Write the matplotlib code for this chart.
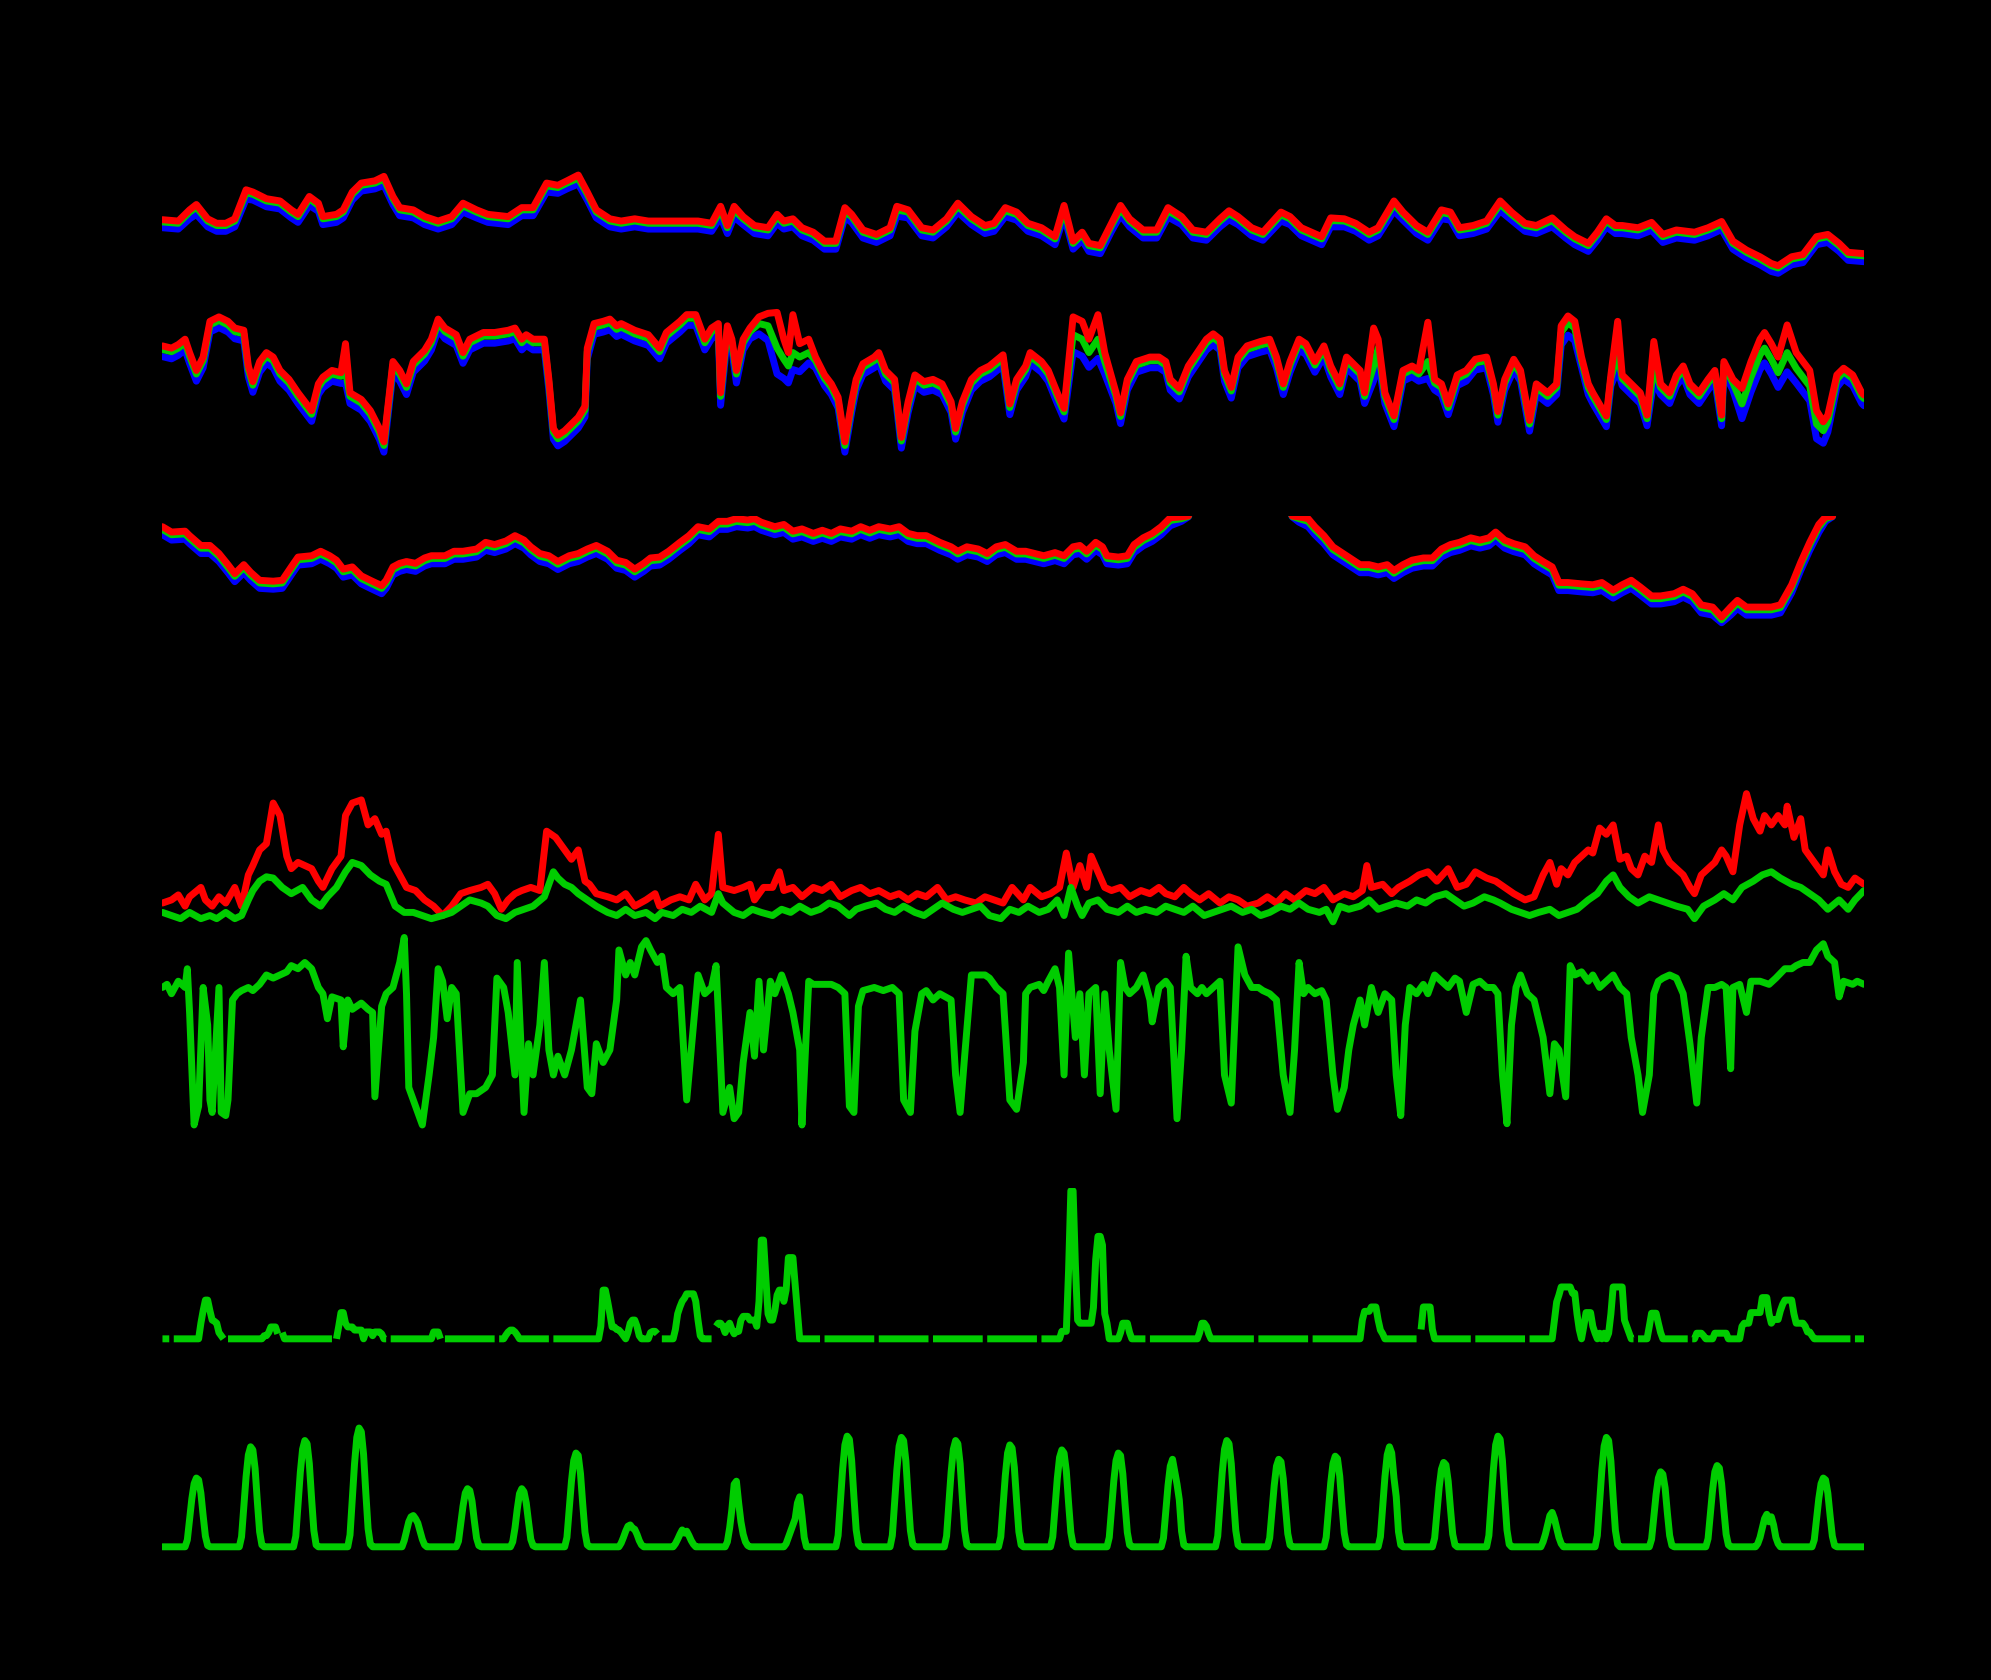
import numpy as np
import matplotlib
matplotlib.use("Agg")
import matplotlib.pyplot as plt

# hours since start of the month (31 days of hourly data, drawn on a black page)

# panel 1: three traces, red / green / blue
t1 = [0, 7, 12, 15, 20, 24, 28, 32, 37, 40,
      46, 52, 57, 60, 65, 69, 71, 77, 80, 84,
      88, 94, 98, 102, 105, 111, 116, 122, 128, 133,
      139, 144, 153, 159, 164, 170, 175, 179, 184, 188,
      192, 198, 203, 209, 215, 226, 237, 243, 247, 250,
      253, 257, 262, 268, 272, 275, 279, 283, 288, 293,
      298, 302, 305, 310, 316, 322, 325, 330, 336, 341,
      347, 352, 358, 364, 368, 373, 378, 383, 389, 395,
      399, 403, 407, 410, 415, 420, 424, 428, 434, 440,
      445, 451, 456, 462, 468, 472, 476, 482, 487, 495,
      499, 504, 513, 517, 523, 528, 534, 538, 545, 549,
      555, 560, 566, 570, 574, 580, 586, 592, 597, 603,
      608, 615, 621, 625, 631, 635, 639, 643, 646, 653,
      659, 664, 670, 678, 684, 690, 695, 701, 707, 712,
      715, 721, 726, 732, 737, 742, 746, 753]
red1 = [128, 125, 150, 162, 130, 120, 120, 130, 195, 190,
        175, 170, 150, 140, 180, 165, 135, 140, 150, 190,
        210, 215, 225, 180, 155, 150, 135, 125, 135, 165,
        150, 140, 135, 155, 155, 210, 205, 215, 228, 190,
        150, 130, 125, 130, 125, 125, 125, 120, 158, 115,
        158, 135, 115, 110, 140, 125, 130, 110, 100, 80,
        80, 155, 140, 105, 95, 110, 158, 150, 110, 105,
        130, 165, 135, 115, 120, 155, 145, 120, 110, 90,
        160, 80, 100, 75, 70, 120, 160, 130, 105, 105,
        155, 135, 105, 100, 130, 148, 135, 110, 100, 145,
        135, 110, 90, 132, 130, 120, 100, 110, 170, 145,
        115, 100, 150, 145, 110, 115, 125, 170, 145, 120,
        115, 132, 105, 90, 75, 100, 130, 115, 115, 110,
        122, 95, 105, 100, 110, 124, 80, 60, 45, 30,
        25, 45, 50, 90, 95, 75, 55, 52]
green1 = [123, 120, 145, 156, 125, 115, 115, 125, 188, 185,
          170, 165, 145, 135, 175, 160, 130, 135, 145, 185,
          205, 210, 219, 175, 150, 145, 130, 120, 130, 159,
          145, 135, 130, 150, 150, 204, 200, 210, 221, 185,
          145, 125, 120, 125, 120, 120, 120, 115, 150, 110,
          150, 130, 110, 105, 134, 120, 125, 105, 95, 75,
          75, 147, 135, 100, 90, 105, 150, 145, 105, 100,
          125, 158, 130, 110, 115, 148, 140, 115, 105, 85,
          150, 75, 95, 70, 65, 115, 152, 125, 100, 100,
          148, 130, 100, 95, 125, 142, 130, 105, 95, 139,
          130, 105, 85, 126, 125, 115, 95, 105, 163, 140,
          110, 95, 144, 140, 105, 110, 120, 163, 140, 115,
          110, 126, 100, 85, 70, 95, 125, 110, 110, 105,
          117, 90, 100, 95, 105, 118, 75, 55, 40, 25,
          20, 40, 45, 85, 90, 70, 50, 47]
blue1 = [110, 107, 130, 140, 112, 102, 102, 112, 174, 172,
         157, 152, 132, 122, 160, 147, 117, 122, 132, 172,
         192, 197, 205, 162, 137, 132, 117, 107, 117, 145,
         132, 122, 117, 137, 137, 190, 187, 197, 208, 172,
         132, 112, 107, 112, 107, 107, 107, 102, 134, 97,
         134, 117, 97, 92, 120, 107, 112, 92, 82, 62,
         62, 133, 122, 87, 77, 92, 136, 132, 92, 87,
         112, 145, 117, 97, 102, 135, 127, 102, 92, 72,
         136, 62, 82, 57, 52, 102, 138, 112, 87, 87,
         134, 117, 87, 82, 112, 128, 117, 92, 82, 125,
         117, 92, 72, 112, 112, 102, 82, 92, 148, 127,
         97, 82, 130, 127, 92, 97, 107, 148, 127, 102,
         97, 112, 87, 72, 57, 82, 112, 97, 97, 92,
         104, 77, 87, 82, 92, 106, 62, 42, 27, 12,
         8, 27, 32, 72, 77, 57, 37, 34]

# panel 2: three traces
t2 = [0, 4, 7, 10, 12, 15, 18, 21, 25, 29,
      32, 36, 38, 40, 43, 46, 49, 52, 56, 60,
      63, 66, 69, 71, 75, 79, 81, 83, 88, 92,
      96, 98, 100, 102, 105, 108, 111, 116, 119, 122,
      125, 130, 133, 136, 142, 147, 153, 156, 159, 161,
      164, 169, 171, 173, 175, 178, 181, 184, 187, 188,
      191, 195, 198, 201, 203, 209, 215, 220, 223, 229,
      232, 236, 240, 243, 246, 247, 250, 252, 254, 257,
      260, 264, 268, 272, 275, 277, 279, 282, 286, 289,
      293, 296, 299, 302, 305, 307, 310, 315, 317, 320,
      324, 327, 330, 333, 337, 341, 345, 349, 351, 354,
      358, 362, 366, 372, 375, 378, 382, 384, 389, 392,
      396, 399, 403, 407, 410, 414, 417, 422, 424, 427,
      431, 437, 441, 444, 446, 450, 454, 458, 462, 465,
      468, 470, 473, 476, 480, 486, 490, 493, 496, 499,
      503, 506, 510, 514, 517, 521, 524, 530, 532, 536,
      538, 541, 545, 549, 553, 556, 560, 563, 566, 569,
      573, 577, 581, 586, 589, 591, 594, 598, 601, 605,
      608, 613, 617, 619, 622, 625, 628, 631, 633, 639,
      641, 644, 646, 650, 654, 657, 660, 663, 667, 670,
      673, 676, 680, 684, 687, 690, 691, 695, 699, 703,
      707, 709, 712, 715, 719, 723, 726, 729, 732, 735,
      737, 741, 744, 748, 752, 753]
red2 = [245, 240, 248, 260, 230, 190, 220, 300, 310, 300,
        285, 280, 200, 165, 210, 230, 220, 190, 170, 140,
        120, 100, 160, 175, 190, 185, 250, 140, 125, 100,
        60, 30, 120, 210, 190, 160, 210, 235, 260, 305,
        285, 270, 230, 260, 275, 275, 280, 285, 260, 270,
        260, 260, 170, 60, 45, 55, 70, 85, 110, 240,
        295, 300, 305, 290, 295, 280, 270, 240, 275, 300,
        315, 315, 260, 285, 295, 140, 290, 260, 190, 260,
        285, 310, 318, 320, 260, 230, 315, 250, 260, 220,
        180, 160, 130, 30, 120, 170, 205, 220, 230, 190,
        170, 40, 120, 180, 165, 170, 160, 120, 60, 120,
        170, 190, 200, 225, 115, 170, 200, 230, 210, 190,
        140, 105, 310, 300, 260, 315, 230, 140, 95, 170,
        210, 220, 220, 210, 170, 150, 200, 230, 260, 272,
        260, 190, 152, 220, 245, 255, 260, 220, 160, 210,
        260, 250, 210, 245, 200, 160, 220, 190, 140, 285,
        260, 140, 88, 190, 200, 190, 298, 170, 160, 115,
        180, 190, 215, 220, 160, 98, 170, 215, 190, 78,
        160, 140, 160, 290, 312, 300, 220, 160, 140, 88,
        180, 300, 180, 160, 140, 90, 255, 160, 140, 180,
        200, 160, 140, 170, 190, 90, 210, 170, 150, 210,
        260, 275, 250, 220, 292, 230, 210, 190, 100, 75,
        90, 180, 195, 180, 140, 135]
green2 = [237, 232, 240, 252, 222, 182, 212, 292, 302, 292,
          277, 272, 192, 157, 202, 222, 212, 182, 162, 132,
          112, 92, 152, 167, 182, 177, 190, 132, 117, 92,
          52, 22, 112, 202, 182, 152, 202, 227, 252, 297,
          277, 262, 222, 252, 267, 267, 272, 277, 252, 262,
          252, 252, 162, 52, 37, 47, 62, 77, 102, 232,
          287, 292, 297, 282, 287, 272, 262, 232, 267, 292,
          307, 307, 252, 277, 287, 132, 282, 252, 182, 252,
          277, 295, 290, 240, 215, 200, 230, 220, 230, 212,
          172, 152, 122, 22, 112, 162, 197, 212, 222, 182,
          162, 32, 112, 172, 157, 162, 152, 112, 52, 112,
          162, 182, 192, 217, 107, 162, 192, 222, 202, 182,
          132, 97, 270, 260, 230, 260, 210, 132, 87, 162,
          202, 212, 212, 202, 162, 142, 192, 222, 252, 264,
          252, 182, 144, 212, 237, 247, 252, 212, 152, 202,
          252, 242, 202, 237, 192, 152, 212, 182, 132, 200,
          240, 132, 80, 182, 192, 182, 210, 162, 152, 107,
          172, 182, 207, 212, 152, 90, 162, 207, 182, 70,
          152, 132, 152, 275, 297, 285, 212, 152, 132, 80,
          172, 230, 172, 152, 132, 82, 200, 152, 132, 172,
          192, 152, 132, 162, 182, 82, 202, 162, 115, 175,
          225, 240, 215, 185, 230, 195, 175, 155, 70, 55,
          75, 170, 187, 172, 132, 127]
blue2 = [221, 216, 224, 236, 206, 166, 196, 276, 286, 276,
         261, 256, 176, 141, 186, 206, 196, 166, 146, 116,
         96, 76, 136, 151, 166, 161, 162, 116, 101, 76,
         36, 7, 96, 186, 166, 136, 186, 211, 236, 281,
         261, 246, 206, 236, 251, 251, 256, 261, 236, 246,
         236, 236, 146, 36, 21, 31, 46, 61, 86, 216,
         271, 276, 281, 266, 271, 256, 246, 216, 251, 276,
         291, 291, 236, 261, 271, 112, 266, 236, 162, 236,
         261, 272, 257, 182, 172, 162, 192, 187, 207, 196,
         156, 136, 106, 7, 96, 146, 181, 196, 206, 166,
         146, 16, 96, 156, 141, 146, 136, 96, 36, 96,
         146, 166, 176, 201, 91, 146, 176, 206, 186, 166,
         116, 81, 232, 222, 197, 217, 182, 116, 71, 146,
         186, 196, 196, 186, 146, 126, 176, 206, 236, 248,
         236, 166, 128, 196, 221, 231, 236, 196, 136, 186,
         236, 226, 186, 221, 176, 136, 196, 166, 116, 167,
         212, 116, 64, 166, 176, 166, 172, 146, 136, 91,
         156, 166, 191, 196, 136, 74, 146, 191, 166, 54,
         136, 116, 136, 247, 269, 257, 196, 136, 116, 64,
         156, 192, 156, 136, 116, 66, 167, 136, 116, 156,
         176, 136, 116, 146, 166, 66, 186, 146, 82, 142,
         192, 207, 182, 152, 187, 162, 142, 122, 37, 27,
         52, 152, 171, 156, 116, 111]

# panel 3: three traces, running off the top of the panel twice
t3 = [0, 4, 10, 12, 17, 21, 25, 29, 32, 36,
      39, 43, 49, 53, 57, 60, 66, 70, 74, 77,
      80, 84, 88, 92, 97, 99, 102, 105, 108, 112,
      116, 119, 125, 129, 133, 139, 143, 147, 152, 156,
      160, 163, 167, 171, 175, 180, 184, 188, 192, 197,
      201, 205, 209, 213, 216, 220, 224, 229, 233, 237,
      242, 246, 250, 254, 259, 262, 265, 271, 275, 279,
      283, 288, 292, 296, 300, 305, 309, 313, 317, 322,
      326, 330, 334, 338, 344, 349, 352, 356, 361, 365,
      369, 373, 378, 382, 386, 390, 395, 399, 403, 406,
      409, 413, 416, 418, 423, 427, 430, 434, 438, 442,
      446, 451, 454, 457, 496, 500, 503, 507, 510, 514,
      518, 524, 530, 534, 538, 542, 545, 549, 553, 558,
      562, 566, 570, 574, 579, 583, 587, 590, 594, 598,
      603, 607, 611, 615, 618, 622, 628, 633, 637, 642,
      646, 650, 654, 659, 663, 669, 673, 677, 681, 686,
      690, 694, 697, 701, 707, 712, 716, 721, 725, 729,
      733, 736, 739, 742, 753]
red3 = [220, 208, 210, 200, 178, 178, 160, 135, 115, 135,
        118, 100, 98, 100, 130, 152, 155, 165, 155, 145,
        125, 130, 110, 100, 88, 100, 130, 138, 142, 138,
        150, 155, 155, 165, 165, 170, 185, 180, 188, 200,
        190, 175, 160, 155, 142, 155, 160, 170, 178, 165,
        145, 140, 125, 138, 150, 152, 165, 185, 200, 220,
        215, 232, 232, 238, 235, 238, 230, 220, 225, 210,
        215, 205, 212, 205, 215, 210, 220, 212, 220, 215,
        220, 205, 200, 200, 185, 175, 165, 175, 170, 160,
        175, 180, 165, 165, 160, 155, 162, 155, 175, 178,
        165, 185, 175, 155, 152, 155, 180, 195, 205, 220,
        240, 242, 244, 290, 290, 244, 242, 238, 220, 200,
        175, 155, 135, 135, 130, 135, 122, 135, 145, 150,
        150, 170, 180, 185, 195, 190, 195, 208, 190, 182,
        175, 155, 142, 130, 95, 95, 92, 90, 95, 78,
        90, 100, 85, 65, 65, 70, 80, 70, 45, 40,
        18, 40, 55, 40, 40, 40, 45, 90, 140, 185,
        225, 242, 243, 300, 300]
green3 = [214, 202, 204, 194, 172, 172, 154, 129, 109, 129,
          112, 94, 92, 94, 124, 146, 149, 159, 149, 139,
          119, 124, 104, 94, 82, 94, 124, 132, 136, 132,
          144, 149, 149, 159, 159, 164, 179, 174, 182, 194,
          184, 169, 154, 149, 136, 149, 154, 164, 172, 159,
          139, 134, 119, 132, 144, 146, 159, 179, 194, 214,
          209, 226, 226, 232, 229, 232, 224, 214, 219, 204,
          209, 199, 206, 199, 209, 204, 214, 206, 214, 209,
          214, 199, 194, 194, 179, 169, 159, 169, 164, 154,
          169, 174, 159, 159, 154, 149, 156, 149, 169, 172,
          159, 179, 169, 149, 146, 149, 174, 189, 199, 214,
          234, 238, 243, 290, 290, 243, 238, 232, 214, 194,
          169, 149, 129, 129, 124, 129, 116, 129, 139, 144,
          144, 164, 174, 179, 189, 184, 189, 202, 184, 176,
          169, 149, 136, 124, 89, 89, 86, 84, 89, 72,
          84, 94, 79, 59, 59, 64, 74, 64, 39, 34,
          12, 34, 49, 34, 34, 34, 39, 84, 134, 179,
          219, 238, 243, 300, 300]
blue3 = [202, 190, 192, 182, 160, 160, 142, 117, 97, 117,
         100, 82, 80, 82, 112, 134, 137, 147, 137, 127,
         107, 112, 92, 82, 70, 82, 112, 120, 124, 120,
         132, 137, 137, 147, 147, 152, 167, 162, 170, 182,
         172, 157, 142, 137, 124, 137, 142, 152, 160, 147,
         127, 122, 107, 120, 132, 134, 147, 167, 182, 202,
         197, 214, 214, 220, 217, 220, 212, 202, 207, 192,
         197, 187, 194, 187, 197, 192, 202, 194, 202, 197,
         202, 187, 182, 182, 167, 157, 147, 157, 152, 142,
         157, 162, 147, 147, 142, 137, 144, 137, 157, 160,
         147, 167, 157, 137, 134, 137, 162, 177, 187, 202,
         222, 232, 242, 290, 290, 242, 230, 220, 202, 182,
         157, 137, 117, 117, 112, 117, 104, 117, 127, 132,
         132, 152, 162, 167, 177, 172, 177, 190, 172, 164,
         157, 137, 124, 112, 77, 77, 74, 72, 77, 60,
         72, 82, 67, 47, 47, 52, 62, 52, 27, 22,
         5, 22, 37, 22, 22, 22, 27, 72, 122, 167,
         207, 232, 242, 300, 300]

# panel 4: red (gusty) and green
t4_red = [0, 4, 7, 10, 12, 17, 19, 22, 25, 28,
          32, 35, 38, 40, 43, 46, 49, 52, 55, 57,
          60, 63, 66, 69, 71, 75, 79, 81, 84, 88,
          91, 94, 97, 99, 102, 105, 108, 112, 116, 120,
          124, 128, 132, 136, 141, 144, 147, 150, 153, 156,
          159, 163, 167, 170, 174, 178, 181, 184, 187, 189,
          192, 197, 201, 205, 209, 214, 218, 220, 225, 229,
          233, 236, 240, 243, 246, 248, 253, 257, 260, 262,
          266, 270, 273, 275, 279, 283, 288, 292, 296, 300,
          305, 309, 313, 317, 322, 326, 330, 334, 338, 343,
          347, 351, 355, 360, 364, 368, 372, 376, 381, 384,
          389, 393, 397, 400, 403, 406, 409, 411, 414, 417,
          420, 424, 428, 433, 437, 441, 444, 448, 452, 455,
          459, 463, 468, 472, 476, 480, 485, 489, 493, 497,
          501, 506, 510, 514, 518, 523, 527, 531, 533, 535,
          540, 544, 547, 552, 556, 560, 564, 569, 573, 577,
          581, 586, 590, 594, 598, 603, 607, 611, 614, 617,
          619, 622, 625, 628, 631, 633, 636, 639, 642, 645,
          648, 650, 653, 656, 659, 662, 664, 667, 670, 673,
          676, 678, 681, 684, 687, 690, 692, 695, 698, 701,
          704, 707, 709, 712, 715, 718, 719, 722, 725, 727,
          731, 735, 737, 740, 743, 746, 749, 753]
red4 = [40, 45, 53, 35, 50, 65, 45, 35, 50, 40,
        65, 35, 85, 100, 125, 135, 200, 180, 115, 95,
        105, 100, 95, 75, 65, 95, 115, 180, 200, 205,
        165, 175, 150, 155, 105, 85, 65, 60, 45, 35,
        20, 35, 55, 60, 65, 70, 55, 30, 45, 55,
        60, 65, 60, 155, 145, 125, 110, 125, 75, 70,
        55, 50, 45, 55, 35, 45, 55, 35, 45, 50,
        45, 70, 45, 55, 150, 65, 60, 65, 70, 45,
        65, 65, 90, 60, 65, 50, 65, 60, 70, 50,
        60, 65, 55, 60, 50, 55, 45, 55, 50, 65,
        45, 50, 45, 40, 50, 45, 40, 65, 45, 65,
        50, 55, 65, 120, 65, 100, 65, 115, 90, 65,
        60, 65, 50, 60, 55, 65, 55, 50, 65, 55,
        45, 55, 40, 50, 45, 35, 40, 50, 40, 55,
        45, 60, 55, 65, 45, 55, 50, 60, 100, 65,
        70, 55, 65, 75, 85, 90, 75, 95, 65, 70,
        90, 80, 75, 65, 55, 45, 50, 85, 105, 70,
        95, 85, 105, 115, 125, 120, 160, 150, 165, 110,
        115, 95, 85, 115, 105, 165, 125, 105, 95, 85,
        65, 55, 85, 95, 105, 125, 115, 90, 165, 215,
        175, 155, 180, 165, 180, 165, 195, 145, 175, 125,
        105, 85, 125, 90, 70, 65, 80, 70]
t4_green = [0, 4, 8, 12, 17, 21, 24, 28, 32, 35,
            38, 40, 43, 46, 49, 53, 57, 62, 66, 70,
            73, 77, 81, 84, 88, 92, 96, 99, 103, 107,
            111, 115, 119, 124, 128, 132, 136, 141, 144, 148,
            152, 156, 160, 164, 169, 173, 175, 178, 181, 184,
            188, 192, 197, 201, 205, 209, 214, 218, 221, 226,
            230, 234, 238, 243, 246, 248, 253, 257, 261, 265,
            270, 274, 278, 282, 287, 291, 295, 299, 304, 307,
            311, 316, 320, 324, 328, 333, 337, 341, 345, 350,
            354, 358, 362, 366, 371, 375, 379, 383, 388, 392,
            396, 399, 402, 405, 407, 410, 414, 418, 423, 427,
            431, 435, 440, 444, 448, 452, 456, 461, 465, 469,
            473, 478, 482, 486, 490, 495, 499, 503, 507, 512,
            515, 518, 521, 525, 530, 534, 538, 542, 546, 551,
            555, 559, 563, 568, 572, 576, 580, 585, 589, 592,
            597, 601, 605, 609, 614, 618, 622, 626, 631, 635,
            639, 642, 645, 649, 653, 658, 662, 666, 670, 675,
            678, 682, 687, 691, 695, 699, 704, 708, 712, 716,
            721, 725, 729, 733, 737, 742, 746, 749, 753]
green4 = [25, 20, 15, 25, 15, 20, 15, 25, 15, 20,
          45, 60, 75, 82, 80, 65, 55, 65, 45, 35,
          50, 65, 90, 105, 100, 85, 75, 70, 35, 25,
          25, 20, 15, 20, 25, 35, 45, 40, 35, 20,
          15, 25, 30, 35, 50, 90, 80, 70, 65, 55,
          45, 35, 25, 20, 30, 20, 25, 15, 25, 20,
          30, 25, 35, 25, 55, 40, 25, 20, 30, 25,
          20, 30, 25, 35, 25, 30, 40, 35, 20, 30,
          35, 40, 30, 25, 35, 25, 20, 30, 40, 30,
          25, 30, 35, 20, 15, 30, 25, 35, 25, 30,
          45, 20, 65, 35, 20, 40, 45, 30, 25, 35,
          25, 30, 25, 35, 30, 25, 35, 20, 25, 30,
          35, 25, 30, 20, 25, 35, 30, 40, 30, 25,
          30, 10, 35, 30, 35, 45, 30, 35, 40, 35,
          45, 40, 50, 55, 45, 35, 40, 50, 45, 40,
          30, 25, 20, 25, 30, 20, 25, 30, 45, 55,
          75, 85, 65, 50, 40, 50, 45, 40, 35, 30,
          15, 35, 45, 55, 45, 65, 75, 85, 90, 80,
          70, 65, 55, 45, 30, 45, 30, 45, 60]

# panel 5: single green trace with deep drops
t5 = [0, 2, 4, 7, 10, 11, 12, 14, 16, 18,
      20, 21, 22, 25, 26, 28, 29, 31, 33, 35,
      38, 40, 43, 46, 49, 52, 55, 57, 60, 63,
      66, 69, 71, 73, 75, 79, 80, 82, 84, 88,
      91, 93, 94, 97, 99, 102, 105, 107, 108, 109,
      112, 115, 118, 120, 122, 124, 126, 128, 130, 133,
      136, 139, 143, 146, 148, 151, 153, 156, 157, 160,
      162, 164, 167, 169, 171, 173, 175, 178, 181, 184,
      185, 188, 190, 192, 195, 198, 201, 202, 205, 207,
      209, 212, 214, 216, 219, 221, 223, 226, 229, 232,
      234, 237, 240, 243, 245, 246, 248, 251, 253, 255,
      257, 260, 262, 264, 266, 269, 271, 274, 277, 279,
      282, 283, 286, 288, 292, 296, 299, 302, 304, 306,
      308, 310, 315, 319, 323, 326, 328, 331, 333, 336,
      338, 341, 344, 349, 351, 353, 355, 358, 361, 364,
      366, 369, 372, 375, 378, 381, 382, 384, 388, 390,
      392, 395, 397, 399, 401, 404, 406, 408, 410, 413,
      415, 417, 419, 422, 424, 426, 428, 431, 434, 437,
      438, 441, 444, 446, 449, 451, 453, 455, 458, 460,
      462, 465, 468, 470, 473, 476, 479, 482, 485, 487,
      490, 493, 496, 499, 501, 503, 505, 507, 510, 513,
      515, 518, 520, 523, 525, 527, 530, 532, 535, 538,
      541, 544, 546, 548, 550, 552, 555, 558, 560, 563,
      566, 569, 572, 574, 577, 580, 583, 586, 589, 591,
      593, 595, 597, 599, 601, 604, 607, 609, 611, 613,
      614, 616, 618, 621, 623, 625, 628, 631, 633, 636,
      639, 642, 645, 648, 650, 653, 655, 658, 660, 662,
      664, 667, 670, 673, 676, 679, 681, 684, 687, 690,
      692, 694, 695, 698, 701, 703, 707, 711, 714, 718,
      721, 723, 726, 729, 732, 735, 737, 740, 742, 744,
      748, 750, 753]
green5 = [235, 240, 225, 245, 235, 265, 195, 15, 45, 235,
          175, 55, 35, 235, 35, 30, 55, 215, 225, 230,
          235, 230, 240, 255, 250, 255, 260, 270, 265, 275,
          265, 235, 225, 185, 220, 215, 140, 215, 200, 210,
          200, 195, 60, 205, 225, 235, 275, 315, 225, 75,
          45, 15, 95, 155, 265, 245, 185, 235, 225, 35,
          65, 65, 75, 95, 250, 235, 195, 95, 275, 35,
          145, 95, 175, 275, 135, 95, 125, 95, 135, 195,
          215, 75, 65, 145, 115, 135, 215, 295, 255, 275,
          255, 300, 310, 295, 275, 285, 235, 225, 235, 55,
          135, 255, 225, 235, 270, 195, 35, 75, 25, 35,
          115, 195, 125, 245, 135, 245, 225, 255, 225, 195,
          135, 15, 245, 240, 240, 240, 235, 225, 45, 35,
          205, 230, 235, 230, 235, 225, 55, 35, 165, 225,
          230, 215, 225, 215, 95, 35, 125, 255, 255, 255,
          250, 235, 225, 55, 40, 115, 225, 235, 240, 230,
          245, 265, 235, 95, 290, 155, 225, 95, 225, 235,
          65, 225, 135, 40, 275, 235, 225, 235, 255, 215,
          180, 235, 245, 235, 25, 135, 285, 235, 225, 235,
          225, 235, 245, 95, 50, 300, 255, 235, 235, 230,
          225, 215, 95, 35, 135, 275, 225, 235, 225, 230,
          215, 95, 40, 75, 135, 175, 215, 175, 235, 195,
          225, 215, 95, 30, 175, 235, 225, 240, 225, 255,
          245, 235, 250, 245, 195, 240, 245, 235, 235, 225,
          95, 17, 175, 235, 255, 225, 215, 185, 155, 95,
          65, 145, 135, 60, 270, 255, 260, 245, 255, 235,
          245, 255, 235, 225, 155, 95, 35, 95, 225, 245,
          250, 255, 250, 225, 145, 50, 155, 235, 235, 240,
          235, 105, 235, 240, 195, 245, 245, 240, 250, 265,
          265, 270, 275, 275, 295, 305, 285, 275, 220, 245,
          240, 245, 240]

# panel 6: hourly bursts, zero otherwise, a few missing hours
rain_hours = [17, 18, 19, 20, 21, 22, 23, 24, 25, 26,
              45, 46, 47, 48, 49, 50, 51, 53, 78, 79,
              80, 81, 82, 83, 84, 85, 86, 87, 88, 90,
              91, 92, 93, 94, 95, 96, 97, 120, 121, 122,
              152, 153, 154, 155, 156, 157, 194, 195, 196, 197,
              198, 199, 200, 201, 202, 203, 204, 206, 207, 208,
              209, 210, 211, 216, 217, 218, 219, 227, 228, 229,
              230, 231, 232, 233, 234, 235, 236, 237, 238, 245,
              246, 247, 248, 249, 250, 251, 252, 253, 254, 255,
              256, 257, 258, 259, 260, 261, 262, 263, 264, 265,
              266, 267, 268, 269, 270, 271, 272, 273, 274, 275,
              276, 277, 278, 279, 280, 281, 398, 399, 400, 401,
              402, 403, 404, 405, 406, 407, 408, 409, 410, 411,
              412, 413, 414, 415, 416, 417, 418, 424, 425, 426,
              427, 428, 459, 460, 461, 462, 463, 531, 532, 533,
              534, 535, 536, 537, 538, 539, 540, 557, 558, 559,
              560, 561, 562, 616, 617, 618, 619, 620, 621, 622,
              623, 624, 625, 626, 627, 629, 630, 631, 632, 633,
              634, 636, 638, 640, 641, 642, 643, 644, 645, 646,
              647, 648, 649, 658, 659, 660, 661, 662, 663, 679,
              680, 681, 682, 687, 688, 689, 690, 691, 692, 699,
              700, 701, 702, 703, 704, 705, 706, 707, 708, 709,
              710, 711, 712, 713, 714, 715, 716, 717, 718, 719,
              720, 721, 722, 723, 724, 725, 726, 727, 728, 729,
              730]
rain_vals = [25, 45, 62, 62, 45, 30, 28, 25, 10, 5,
             5, 5, 10, 19, 19, 19, 8, 10, 20, 42,
             42, 25, 19, 19, 19, 14, 14, 14, 14, 11,
             11, 11, 5, 11, 11, 11, 8, 11, 11, 11,
             6, 11, 14, 14, 11, 6, 20, 78, 78, 60,
             40, 19, 19, 15, 14, 10, 5, 10, 25, 30,
             30, 20, 5, 10, 12, 12, 8, 15, 40, 51,
             60, 65, 72, 72, 72, 72, 60, 30, 5, 20,
             25, 25, 20, 10, 20, 25, 15, 8, 12, 12,
             30, 36, 36, 36, 30, 30, 30, 20, 60, 158,
             158, 100, 40, 30, 30, 45, 70, 78, 78, 60,
             78, 130, 130, 130, 86, 40, 12, 12, 12, 110,
             237, 237, 120, 30, 25, 25, 25, 25, 25, 25,
             50, 127, 164, 164, 150, 40, 25, 10, 25, 25,
             25, 10, 10, 25, 25, 20, 8, 30, 44, 44,
             44, 51, 51, 51, 30, 14, 8, 15, 51, 51,
             51, 51, 15, 30, 59, 70, 83, 83, 83, 83,
             83, 73, 73, 40, 15, 20, 42, 42, 42, 20,
             9, 9, 9, 9, 40, 83, 83, 83, 83, 83,
             30, 20, 10, 20, 41, 41, 41, 25, 10, 9,
             9, 9, 5, 9, 9, 9, 9, 9, 9, 20,
             25, 25, 25, 42, 42, 42, 42, 42, 66, 66,
             66, 40, 25, 31, 31, 31, 45, 55, 62, 62,
             62, 62, 40, 25, 25, 25, 25, 20, 11, 11,
             5]
rain_missing = [4, 28, 52, 76, 100, 124, 148, 172, 220, 244, 292, 316, 340,
                364, 388, 436, 484, 508, 556, 580, 604, 652, 676, 748]

# panel 7: daytime curve for each day, hours 09..21
rad_days = [
    [0, 0, 11, 44, 77, 101, 110, 107, 86, 50, 17, 2, 0],
    [0, 0, 16, 64, 112, 147, 160, 155, 125, 72, 24, 3, 0],
    [0, 0, 17, 68, 119, 156, 170, 165, 133, 77, 26, 3, 0],
    [0, 0, 19, 76, 133, 175, 190, 184, 148, 86, 29, 4, 0],
    [0, 0, 10, 25, 40, 48, 50, 45, 38, 25, 12, 3, 0],
    [0, 0, 9, 37, 65, 86, 93, 90, 73, 42, 14, 2, 0],
    [0, 0, 8, 30, 60, 85, 93, 88, 70, 40, 12, 2, 0],
    [0, 0, 15, 60, 105, 138, 150, 146, 117, 68, 23, 3, 0],
    [0, 0, 6, 15, 25, 33, 35, 30, 28, 20, 10, 3, 0],
    [0, 0, 5, 12, 20, 27, 22, 25, 18, 10, 4, 0, 0],
    [0, 8, 30, 60, 100, 105, 70, 40, 20, 8, 2, 0, 0],
    [0, 0, 0, 5, 15, 25, 35, 45, 70, 80, 50, 15, 0],
    [0, 0, 18, 71, 124, 163, 177, 172, 138, 80, 27, 4, 0],
    [0, 0, 18, 70, 123, 161, 175, 170, 137, 79, 26, 4, 0],
    [0, 0, 17, 68, 119, 156, 170, 165, 133, 77, 26, 3, 0],
    [0, 0, 16, 65, 114, 150, 163, 158, 127, 73, 24, 3, 0],
    [0, 16, 62, 109, 143, 155, 150, 121, 70, 23, 3, 0, 0],
    [0, 0, 15, 60, 105, 138, 150, 146, 117, 68, 23, 3, 0],
    [0, 0, 14, 56, 98, 129, 140, 120, 100, 75, 25, 3, 0],
    [0, 0, 17, 68, 119, 156, 170, 165, 133, 77, 26, 3, 0],
    [0, 14, 56, 98, 129, 140, 136, 109, 63, 21, 3, 0, 0],
    [0, 0, 15, 58, 102, 133, 145, 141, 113, 65, 22, 3, 0],
    [0, 0, 16, 64, 112, 147, 160, 150, 110, 80, 24, 3, 0],
    [0, 0, 14, 54, 95, 124, 135, 131, 105, 61, 20, 3, 0],
    [0, 0, 18, 71, 124, 163, 177, 172, 138, 80, 27, 4, 0],
    [0, 0, 8, 20, 35, 50, 55, 45, 30, 15, 5, 0, 0],
    [0, 0, 18, 70, 123, 161, 175, 170, 137, 79, 26, 4, 0],
    [0, 0, 12, 48, 84, 110, 120, 116, 94, 54, 18, 2, 0],
    [0, 0, 0, 13, 52, 91, 120, 130, 126, 101, 59, 20, 3],
    [0, 5, 15, 30, 45, 52, 40, 48, 35, 15, 5, 0, 0],
    [0, 0, 11, 44, 77, 101, 110, 107, 86, 50, 17, 2, 0],
]

RED = "#ff0000"
GREEN = "#00cd00"
BLUE = "#0000ff"
LW = 5.0

hours = np.arange(754)

rain = np.zeros(hours.size)
rain[rain_hours] = rain_vals
rain[rain_missing] = np.nan

rad = np.zeros(hours.size)
for day, prof in enumerate(rad_days):
    start = 24 * day + 9
    rad[start:start + len(prof)] = prof

fig = plt.figure(figsize=(19.91, 16.80), dpi=100, facecolor="black")


def panel(bottom, height, ylim):
    ax = fig.add_axes([0.0816, bottom, 0.8546, height])
    ax.set_facecolor("black")
    ax.set_xlim(0, 753)
    ax.set_ylim(*ylim)
    ax.set_axis_off()
    return ax


line_kw = dict(lw=LW, solid_joinstyle="round", solid_capstyle="round")

ax1 = panel(0.8336, 0.0654, (-6, 240))
ax1.plot(t1, blue1, color=BLUE, **line_kw)
ax1.plot(t1, green1, color=GREEN, **line_kw)
ax1.plot(t1, red1, color=RED, **line_kw)

ax2 = panel(0.7274, 0.0893, (-6, 330))
ax2.plot(t2, blue2, color=BLUE, **line_kw)
ax2.plot(t2, green2, color=GREEN, **line_kw)
ax2.plot(t2, red2, color=RED, **line_kw)

ax3 = panel(0.6264, 0.0662, (-6, 243))
ax3.plot(t3, blue3, color=BLUE, **line_kw)
ax3.plot(t3, green3, color=GREEN, **line_kw)
ax3.plot(t3, red3, color=RED, **line_kw)

ax4 = panel(0.4476, 0.0837, (0, 225))
ax4.plot(t4_red, red4, color=RED, **line_kw)
ax4.plot(t4_green, green4, color=GREEN, **line_kw)

ax5 = panel(0.3248, 0.1209, (0, 325))
ax5.plot(t5, green5, color=GREEN, **line_kw)

ax6 = panel(0.2001, 0.0930, (-8, 242))
ax6.plot(hours, rain, color=GREEN, lw=LW, solid_joinstyle="round", solid_capstyle="butt")

ax7 = panel(0.0763, 0.0774, (-8, 200))
ax7.plot(hours, rad, color=GREEN, **line_kw)

fig.savefig("out.png", dpi=100, facecolor="black")
